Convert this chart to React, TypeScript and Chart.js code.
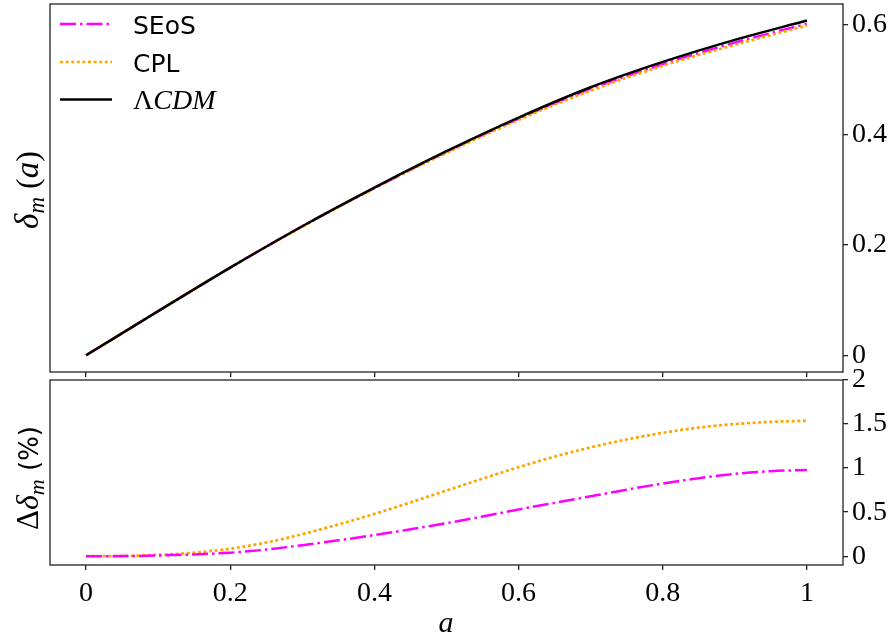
import React, { useEffect, useRef } from 'react';
import { Chart, registerables } from 'chart.js';

Chart.register(...registerables);

// ---------- data ----------
const aTop = [0, 0.1, 0.2, 0.3, 0.4, 0.5, 0.6, 0.7, 0.8, 0.9, 1.0];
const lcdmTop = [0, 0.080, 0.159, 0.234, 0.304, 0.370, 0.431, 0.486, 0.532, 0.572, 0.607];
const seosTop = [0, 0.080, 0.159, 0.234, 0.303, 0.369, 0.429, 0.483, 0.528, 0.567, 0.601];
const cplTop = [0, 0.080, 0.159, 0.233, 0.303, 0.367, 0.427, 0.480, 0.525, 0.563, 0.598];

const aBottom = [0, 0.05, 0.1, 0.15, 0.2, 0.25, 0.3, 0.35, 0.4, 0.45, 0.5, 0.55, 0.6, 0.65, 0.7, 0.75, 0.8, 0.85, 0.9, 0.95, 1.0];
const seosDiff = [0, 0.001, 0.008, 0.02, 0.04, 0.075, 0.125, 0.18, 0.24, 0.305, 0.375, 0.45, 0.53, 0.605, 0.68, 0.755, 0.825, 0.885, 0.935, 0.965, 0.979];
const cplDiff = [0, 0.002, 0.015, 0.04, 0.085, 0.155, 0.25, 0.36, 0.48, 0.61, 0.745, 0.88, 1.01, 1.13, 1.235, 1.325, 1.40, 1.46, 1.50, 1.525, 1.537];

const xTicks = [0, 0.2, 0.4, 0.6, 0.8, 1];
const yTopTicks = [0, 0.2, 0.4, 0.6];
const yBottomTicks = [0, 0.5, 1, 1.5, 2];
const seriesNames = ['SEoS', 'CPL', 'ΛCDM'];

// ---------- styles ----------
const W = 893;
const TOP_H = 378;
const BOT_TOP = 358;
const BOT_H = 639 - BOT_TOP;
const SERIF = '"Liberation Serif", "DejaVu Serif", serif';
const SANS = '"DejaVu Sans", sans-serif';
const TICK_FONT = { family: SERIF, size: 28 };
const SPINE = '#222';

const styles = [
  { color: '#ff00ff', dash: [16, 4, 2.5, 4], width: 2.5 },
  { color: '#ffa500', dash: [3, 2.6], width: 2.7 },
  { color: '#000000', dash: [] as number[], width: 2.5 },
];

type Seg = { t: string; font: string; dy?: number };

function drawRich(ctx: CanvasRenderingContext2D, segs: Seg[], x: number, y: number, rotate: boolean, align: 'center' | 'left' = 'center') {
  ctx.save();
  ctx.translate(x, y);
  if (rotate) ctx.rotate(-Math.PI / 2);
  ctx.textBaseline = 'alphabetic';
  ctx.textAlign = 'left';
  ctx.fillStyle = '#000';
  let total = 0;
  for (const s of segs) {
    ctx.font = s.font;
    total += ctx.measureText(s.t).width;
  }
  let cx = align === 'center' ? -total / 2 : 0;
  for (const s of segs) {
    ctx.font = s.font;
    ctx.fillText(s.t, cx, s.dy || 0);
    cx += ctx.measureText(s.t).width;
  }
  ctx.restore();
}

const framePlugin = {
  id: 'frame',
  afterDraw(chart: any) {
    const { ctx, chartArea } = chart;
    const { left, top, right, bottom } = chartArea;
    ctx.save();
    ctx.strokeStyle = SPINE;
    ctx.lineWidth = 1.3;
    ctx.strokeRect(left, top, right - left, bottom - top);
    ctx.restore();
  },
};

const topDecor = {
  id: 'topDecor',
  afterDraw(chart: any) {
    const ctx: CanvasRenderingContext2D = chart.ctx;
    const rows = [24, 62, 99.5];
    const baselines = [34, 72, 109];
    chart.data.datasets.forEach((ds: any, i: number) => {
      ctx.save();
      ctx.strokeStyle = ds.borderColor;
      ctx.lineWidth = ds.borderWidth;
      ctx.setLineDash(ds.borderDash || []);
      ctx.beginPath();
      ctx.moveTo(60, rows[i]);
      ctx.lineTo(112, rows[i]);
      ctx.stroke();
      ctx.restore();
      const name = seriesNames[i];
      if (name === 'ΛCDM') {
        drawRich(ctx, [
          { t: 'Λ', font: `28px ${SERIF}` },
          { t: 'CDM', font: `italic 28px ${SERIF}` },
        ], 133, baselines[i], false, 'left');
      } else {
        drawRich(ctx, [{ t: name, font: `25px ${SANS}` }], 133, baselines[i], false, 'left');
      }
    });
    drawRich(ctx, [
      { t: 'δ', font: `italic 33px ${SERIF}` },
      { t: 'm', font: `italic 23px ${SERIF}`, dy: 6 },
      { t: ' (', font: `32px ${SERIF}` },
      { t: 'a', font: `italic 33px ${SERIF}` },
      { t: ')', font: `32px ${SERIF}` },
    ], 38, 190, true);
  },
};

const bottomDecor = {
  id: 'bottomDecor',
  afterDraw(chart: any) {
    const ctx: CanvasRenderingContext2D = chart.ctx;
    drawRich(ctx, [
      { t: 'Δ', font: `31px ${SERIF}` },
      { t: 'δ', font: `italic 32px ${SERIF}` },
      { t: 'm', font: `italic 22px ${SERIF}`, dy: 6 },
      { t: ' (%)', font: `26px ${SANS}` },
    ], 38, 478 - BOT_TOP, true);
    drawRich(ctx, [{ t: 'a', font: `italic 30px ${SERIF}` }], 446, 632 - BOT_TOP, false);
  },
};

function gridOpts() {
  return {
    drawOnChartArea: false,
    drawTicks: true,
    tickLength: 5,
    color: SPINE,
    lineWidth: 1.3,
  };
}

function makeDatasets(xs: number[], series: number[][], withOrder: boolean) {
  return series.map((ys, i) => ({
    label: seriesNames[i],
    data: xs.map((x, j) => ({ x, y: ys[j] })),
    borderColor: styles[i].color,
    borderDash: styles[i].dash,
    borderWidth: styles[i].width,
    pointRadius: 0,
    fill: false,
    cubicInterpolationMode: 'monotone' as const,
    order: withOrder ? 3 - i : i,
  }));
}

export default function App() {
  const topRef = useRef<HTMLCanvasElement | null>(null);
  const botRef = useRef<HTMLCanvasElement | null>(null);

  useEffect(() => {
    const topChart = new Chart(topRef.current as HTMLCanvasElement, {
      type: 'line',
      data: { datasets: makeDatasets(aTop, [seosTop, cplTop, lcdmTop], true) as any },
      options: {
        animation: false,
        responsive: false,
        maintainAspectRatio: false,
        layout: { padding: { left: 50, top: 4, right: 0, bottom: 0 } },
        plugins: { legend: { display: false }, tooltip: { enabled: false } },
        scales: {
          x: {
            type: 'linear',
            position: 'bottom',
            min: -0.05,
            max: 1.05,
            afterBuildTicks: (s: any) => { s.ticks = xTicks.map((v) => ({ value: v })); },
            ticks: { display: false },
            grid: gridOpts(),
            border: { display: false },
            afterFit: (s: any) => { s.height = 6; s.paddingLeft = 0; s.paddingRight = 0; },
          },
          y: {
            type: 'linear',
            position: 'right',
            min: -0.0303,
            max: 0.637,
            afterBuildTicks: (s: any) => { s.ticks = yTopTicks.map((v) => ({ value: v })); },
            ticks: { font: TICK_FONT, color: '#000', padding: 4, callback: (v: any) => String(v) },
            grid: gridOpts(),
            border: { display: false },
            afterFit: (s: any) => { s.width = 50; s.paddingTop = 0; s.paddingBottom = 0; },
          },
        },
      } as any,
      plugins: [framePlugin, topDecor],
    });

    const botChart = new Chart(botRef.current as HTMLCanvasElement, {
      type: 'line',
      data: { datasets: makeDatasets(aBottom, [seosDiff, cplDiff], false) as any },
      options: {
        animation: false,
        responsive: false,
        maintainAspectRatio: false,
        layout: { padding: { left: 50, top: 380 - BOT_TOP, right: 0, bottom: 0 } },
        plugins: { legend: { display: false }, tooltip: { enabled: false } },
        scales: {
          x: {
            type: 'linear',
            position: 'bottom',
            min: -0.05,
            max: 1.05,
            afterBuildTicks: (s: any) => { s.ticks = xTicks.map((v) => ({ value: v })); },
            ticks: { font: TICK_FONT, color: '#000', padding: 7, maxRotation: 0, autoSkip: false, callback: (v: any) => String(v) },
            grid: gridOpts(),
            border: { display: false },
            afterFit: (s: any) => { s.height = 74; s.paddingLeft = 0; s.paddingRight = 0; },
          },
          y: {
            type: 'linear',
            position: 'right',
            min: -0.1,
            max: 2,
            afterBuildTicks: (s: any) => { s.ticks = yBottomTicks.map((v) => ({ value: v })); },
            ticks: { font: TICK_FONT, color: '#000', padding: 4, callback: (v: any) => String(v) },
            grid: gridOpts(),
            border: { display: false },
            afterFit: (s: any) => { s.width = 50; s.paddingTop = 0; s.paddingBottom = 0; },
          },
        },
      } as any,
      plugins: [framePlugin, bottomDecor],
    });

    return () => {
      topChart.destroy();
      botChart.destroy();
    };
  }, []);

  return (
    <div style={{ position: 'absolute', left: 0, top: 0, width: W, height: 639, background: '#fff' }}>
      <canvas ref={topRef} width={W} height={TOP_H} style={{ position: 'absolute', left: 0, top: 0, width: W, height: TOP_H }} />
      <canvas ref={botRef} width={W} height={BOT_H} style={{ position: 'absolute', left: 0, top: BOT_TOP, width: W, height: BOT_H }} />
    </div>
  );
}
